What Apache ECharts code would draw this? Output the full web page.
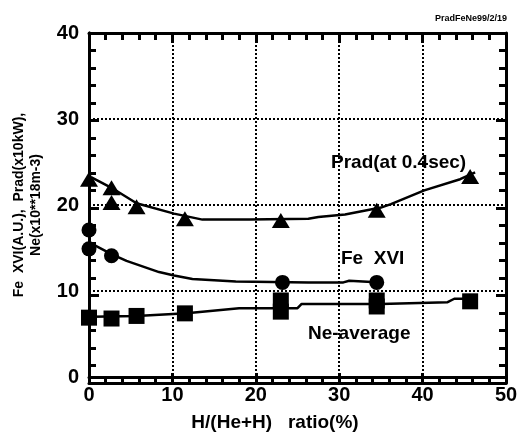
<!DOCTYPE html>
<html>
<head>
<meta charset="utf-8">
<script src="https://cdn.jsdelivr.net/npm/echarts@6/dist/echarts.min.js"></script>
<style>
  html, body { margin: 0; padding: 0; background: #fff; }
  #chart { width: 531px; height: 437px; }
</style>
</head>
<body>
<div id="chart"></div>
<script>
// measured points (x = H/(He+H) ratio %)
const pradPoints = [[0, 23], [2.7, 22], [2.7, 20.3], [5.7, 19.8], [11.5, 18.4], [23, 18.2], [34.5, 19.4], [45.7, 23.3]];
const fePoints = [[0, 17.1], [0, 14.9], [2.7, 14.1], [23.2, 11.0], [34.5, 11.0]];
const nePoints = [[0, 6.9], [2.7, 6.8], [5.7, 7.1], [11.5, 7.4], [23, 8.9], [23, 7.6], [34.5, 8.9], [34.5, 8.2], [45.7, 8.8]];

// hand drawn fit curves
const pradFit = [[0.3, 23.2], [2.7, 22], [5.7, 20.2], [10.2, 19.0], [13.6, 18.3], [19.2, 18.3], [26.3, 18.4], [27.5, 18.6],
  [30.7, 18.9], [35, 19.7], [36.2, 20.1], [40.2, 21.7], [44.5, 23], [46.3, 23.8]];
const feFit = [[0.3, 15.5], [2.7, 14.3], [4.5, 13.5], [8.4, 12.2], [10.2, 11.8], [12.4, 11.4], [17.6, 11.1], [26.3, 11.0],
  [30.5, 11.0], [31.2, 11.2], [35, 11.0]];
const neFit = [[0.3, 7.0], [5.7, 7.1], [11.7, 7.4], [18, 8.0], [22, 8.0], [25, 8.0], [25.5, 8.5], [35, 8.5], [43, 8.7],
  [43.8, 9.1], [46, 9.1]];

const xTicks = [0, 10, 20, 30, 40, 50];
const yTicks = [0, 10, 20, 30, 40];

const font = 'Liberation Sans, Arial, sans-serif';

const chart = echarts.init(document.getElementById('chart'));

// frame + tick axes, drawn in their own grid
function frameAxis(extra) {
  return Object.assign({
    type: 'value',
    interval: 10,
    gridIndex: 1,
    axisLine: { show: true, onZero: false, lineStyle: { color: '#000', width: 3 } },
    axisTick: { show: true, inside: true, length: 10, lineStyle: { color: '#000', width: 3 } },
    minorTick: { show: true, splitNumber: 5, length: 7, lineStyle: { color: '#000', width: 3 } },
    axisLabel: { show: false },
    splitLine: { show: false }
  }, extra);
}

const dotted = { show: true, lineStyle: { color: '#000', width: 2, type: 'dotted' } };
const label = (text, left, top, size) => ({
  text: text, left: left, top: top, padding: 0,
  textStyle: { color: '#000', fontFamily: font, fontWeight: 'bold', fontSize: size }
});

const box = { left: 89, right: 25, top: 33, bottom: 54 };

chart.setOption({
  animation: false,
  title: [
    label('Prad(at 0.4sec)', 331, 153, 19),
    label('Fe  XVI', 341, 249, 19),
    label('Ne-average', 308, 324, 19),
    label('PradFeNe99/2/19', 435, 14, 9)
  ],
  grid: [Object.assign({}, box), Object.assign({}, box)],
  xAxis: [
    {
      type: 'value', gridIndex: 0, min: xTicks[0], max: xTicks[xTicks.length - 1], interval: 10,
      axisLine: { show: true, onZero: false, lineStyle: { color: '#000', width: 3 } },
      axisTick: { show: false }, splitLine: dotted,
      axisLabel: { color: '#000', fontFamily: font, fontWeight: 'bold', fontSize: 20, margin: 8 },
      name: 'H/(He+H)   ratio(%)', nameLocation: 'middle', nameGap: 36,
      nameTextStyle: { color: '#000', fontFamily: font, fontWeight: 'bold', fontSize: 19, padding: [0, 0, 0, -45] }
    },
    frameAxis({ min: xTicks[0], max: xTicks[xTicks.length - 1], position: 'bottom' }),
    frameAxis({ min: xTicks[0], max: xTicks[xTicks.length - 1], position: 'top' })
  ],
  yAxis: [
    {
      type: 'value', gridIndex: 0, min: yTicks[0], max: yTicks[yTicks.length - 1], interval: 10,
      axisLine: { show: true, onZero: false, lineStyle: { color: '#000', width: 3 } },
      axisTick: { show: false }, splitLine: dotted,
      axisLabel: { color: '#000', fontFamily: font, fontWeight: 'bold', fontSize: 20, margin: 10 },
      name: 'Fe  XVI(A.U.),  Prad(x10kW),\nNe(x10**18m-3)', nameLocation: 'middle', nameRotate: 90, nameGap: 44,
      nameTextStyle: { color: '#000', fontFamily: font, fontWeight: 'bold', fontSize: 14, lineHeight: 17 }
    },
    frameAxis({ min: yTicks[0], max: yTicks[yTicks.length - 1], position: 'left' }),
    frameAxis({ min: yTicks[0], max: yTicks[yTicks.length - 1], position: 'right' })
  ],
  series: [
    { type: 'line', data: pradFit, symbol: 'none', lineStyle: { color: '#000', width: 2.5 } },
    { type: 'line', data: feFit, symbol: 'none', lineStyle: { color: '#000', width: 2.5 } },
    { type: 'line', data: neFit, symbol: 'none', lineStyle: { color: '#000', width: 2.5 } },
    { type: 'scatter', data: pradPoints, symbol: 'triangle', symbolSize: [18, 15], itemStyle: { color: '#000', opacity: 1 } },
    { type: 'scatter', data: fePoints, symbol: 'circle', symbolSize: 15, itemStyle: { color: '#000', opacity: 1 } },
    { type: 'scatter', data: nePoints, symbol: 'rect', symbolSize: 16, itemStyle: { color: '#000', opacity: 1 } }
  ]
});
</script>
</body>
</html>
